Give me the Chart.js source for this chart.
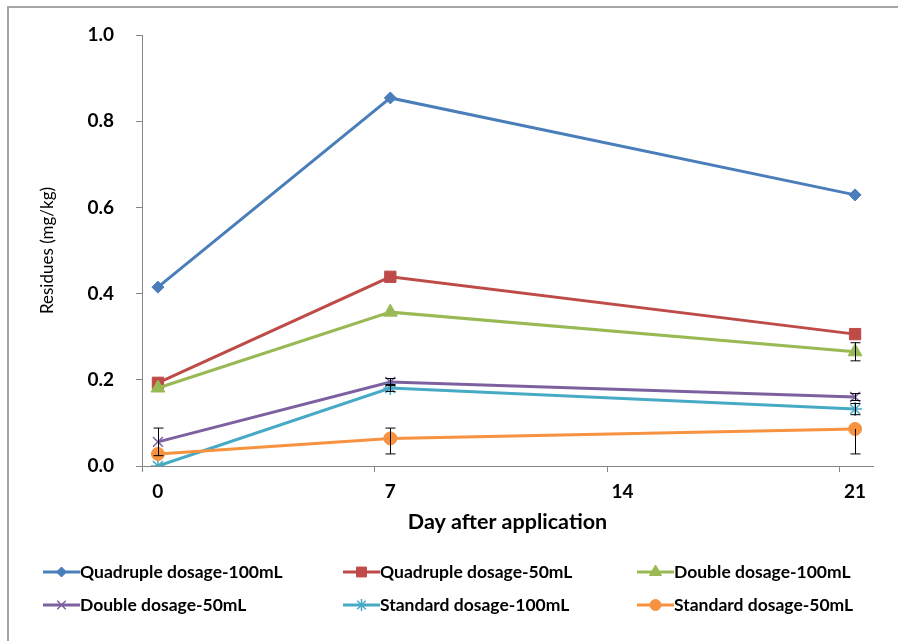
<!DOCTYPE html>
<html>
<head>
<meta charset="utf-8">
<script src="https://cdn.jsdelivr.net/npm/chart.js@4.4.1/dist/chart.umd.min.js"></script>
<style>
  html, body { margin: 0; padding: 0; background: #fff; }
  #wrap { width: 898px; height: 641px; }
</style>
</head>
<body>
<div id="wrap"><canvas id="myChart" width="898" height="641"></canvas></div>
<script>
// days sampled and the axis labels
const days = [0, 7, 21];
const dayTicks = [0, 7, 14, 21];

const seriesNames = [
  'Quadruple dosage-100mL', 'Quadruple dosage-50mL', 'Double dosage-100mL',
  'Double dosage-50mL', 'Standard dosage-100mL', 'Standard dosage-50mL'
];

// residues (mg/kg)
const quad100 = [0.415, 0.854, 0.629];
const quad50 = [0.193, 0.439, 0.306];
const double100 = [0.181, 0.357, 0.265];
const double50 = [0.056, 0.195, 0.160];
const std100 = [0.000, 0.181, 0.132];
const std50 = [0.028, 0.064, 0.086];

// error bars (up / down)
const errUp = [
  [0, 0, 0], [0, 0, 0], [0, 0, 0.021],
  [0.032, 0.008, 0.008], [0, 0.008, 0.013], [0, 0.024, 0]
];
const errDown = [
  [0, 0, 0], [0, 0, 0], [0, 0, 0.021],
  [0.032, 0.008, 0.008], [0, 0.008, 0.013], [0, 0.036, 0.058]
];

const colors = ['#4a7ebb', '#be4b48', '#98b954', '#7d60a0', '#46aac5', '#f69240'];
const markers = ['rectRot', 'rect', 'triangle', 'crossRot', 'star', 'circle'];
const markerSize = [6, 8, 8, 7, 7, 6.5];

const allValues = [quad100, quad50, double100, double50, std100, std50];

const FONT = 'Lato, "DejaVu Sans", sans-serif';
const tickShift = 0.47; // excel puts tick marks a bit left of the labels

const datasets = allValues.map((vals, i) => ({
  label: seriesNames[i],
  data: days.map((d, j) => ({ x: d, y: vals[j] })),
  borderColor: colors[i],
  backgroundColor: colors[i],
  borderWidth: 3,
  pointStyle: markers[i],
  pointRadius: markerSize[i],
  pointBorderWidth: (markers[i] === 'crossRot' || markers[i] === 'star') ? 1.5 : 1,
  pointBackgroundColor: colors[i],
  pointBorderColor: colors[i],
  order: 6 - i,
  tension: 0
}));

const frame = {
  id: 'frame',
  beforeDraw(chart) {
    const c = chart.ctx;
    c.save();
    c.fillStyle = '#fff';
    c.fillRect(0, 0, chart.width, chart.height);
    c.strokeStyle = '#a6a6a6';
    c.lineWidth = 2;
    c.beginPath();
    c.moveTo(8, chart.height);
    c.lineTo(8, 7);
    c.lineTo(chart.width, 7);
    c.stroke();
    c.restore();
  }
};

const errorBars = {
  id: 'errorBars',
  afterDatasetsDraw(chart) {
    const c = chart.ctx;
    const xs = chart.scales.x, ys = chart.scales.y;
    c.save();
    c.strokeStyle = '#000';
    c.lineWidth = 1;
    allValues.forEach((vals, i) => {
      vals.forEach((v, j) => {
        const up = errUp[i][j], dn = errDown[i][j];
        if (!up && !dn) return;
        const px = Math.round(xs.getPixelForValue(days[j])) + 0.5;
        const top = ys.getPixelForValue(v + up);
        const bot = ys.getPixelForValue(v - dn);
        c.beginPath();
        c.moveTo(px, top); c.lineTo(px, bot);
        if (up) { c.moveTo(px - 5, top); c.lineTo(px + 5, top); }
        if (dn) { c.moveTo(px - 5, bot); c.lineTo(px + 5, bot); }
        c.stroke();
      });
    });
    c.restore();
  }
};

const bottomLegend = {
  id: 'bottomLegend',
  afterDraw(chart) {
    const c = chart.ctx;
    const cols = [43, 343, 637];
    const rows = [572, 605];
    c.save();
    seriesNames.forEach((name, i) => {
      const x = cols[i % 3], y = rows[Math.floor(i / 3)];
      c.strokeStyle = colors[i];
      c.fillStyle = colors[i];
      c.lineWidth = 3;
      c.beginPath();
      c.moveTo(x, y); c.lineTo(x + 37, y);
      c.stroke();
      c.lineWidth = (markers[i] === 'crossRot' || markers[i] === 'star') ? 1.5 : 1;
      Chart.helpers.drawPoint(c, { pointStyle: markers[i], radius: markerSize[i] - 1, borderWidth: c.lineWidth, rotation: 0 }, x + 18.5, y);
      c.fillStyle = '#000';
      c.font = 'bold 17.5px ' + FONT;
      c.textBaseline = 'middle';
      c.textAlign = 'left';
      c.fillText(name, x + 37, y);
    });
    c.restore();
  }
};

const ctx = document.getElementById('myChart').getContext('2d');
const myChart = new Chart(ctx, {
  type: 'line',
  data: { datasets: datasets },
  plugins: [frame, errorBars, bottomLegend],
  options: {
    responsive: false,
    animation: false,
    layout: { padding: { left: 0, top: 35, right: 25, bottom: 100 } },
    plugins: {
      legend: { display: false },
      tooltip: { enabled: false }
    },
    scales: {
      x: {
        type: 'linear',
        min: -0.48,
        max: 21.54,
        afterFit(scale) { scale.height = 75; },
        afterBuildTicks(scale) {
          scale.ticks = dayTicks.map(d => ({ value: Math.max(d - tickShift, -0.48), label: String(d) }));
        },
        ticks: {
          color: '#000',
          font: { family: FONT, size: 19, weight: 'bold' },
          padding: 8,
          labelOffset: 15.5,
          maxRotation: 0,
          callback: function (val, idx) { return String(dayTicks[idx]); }
        },
        grid: { drawOnChartArea: false, drawTicks: true, tickLength: 6, color: '#868686' },
        border: { color: '#868686', width: 1 },
        title: {
          display: true,
          text: 'Day after application',
          color: '#000',
          font: { family: FONT, size: 21.5, weight: 'bold' },
          padding: { top: 0, bottom: 6 }
        }
      },
      y: {
        min: 0,
        max: 1,
        afterFit(scale) { scale.width = 142; },
        ticks: {
          stepSize: 0.2,
          color: '#000',
          font: { family: FONT, size: 19, weight: 'bold' },
          padding: 22,
          callback: v => v.toFixed(1)
        },
        grid: { drawOnChartArea: false, drawTicks: true, tickLength: 6, color: '#868686' },
        border: { color: '#868686', width: 1 },
        title: {
          display: true,
          text: 'Residues (mg/kg)',
          color: '#000',
          font: { family: FONT, size: 17, weight: 'normal' },
          padding: { top: 37, bottom: 0 }
        }
      }
    }
  }
});
</script>
</body>
</html>
